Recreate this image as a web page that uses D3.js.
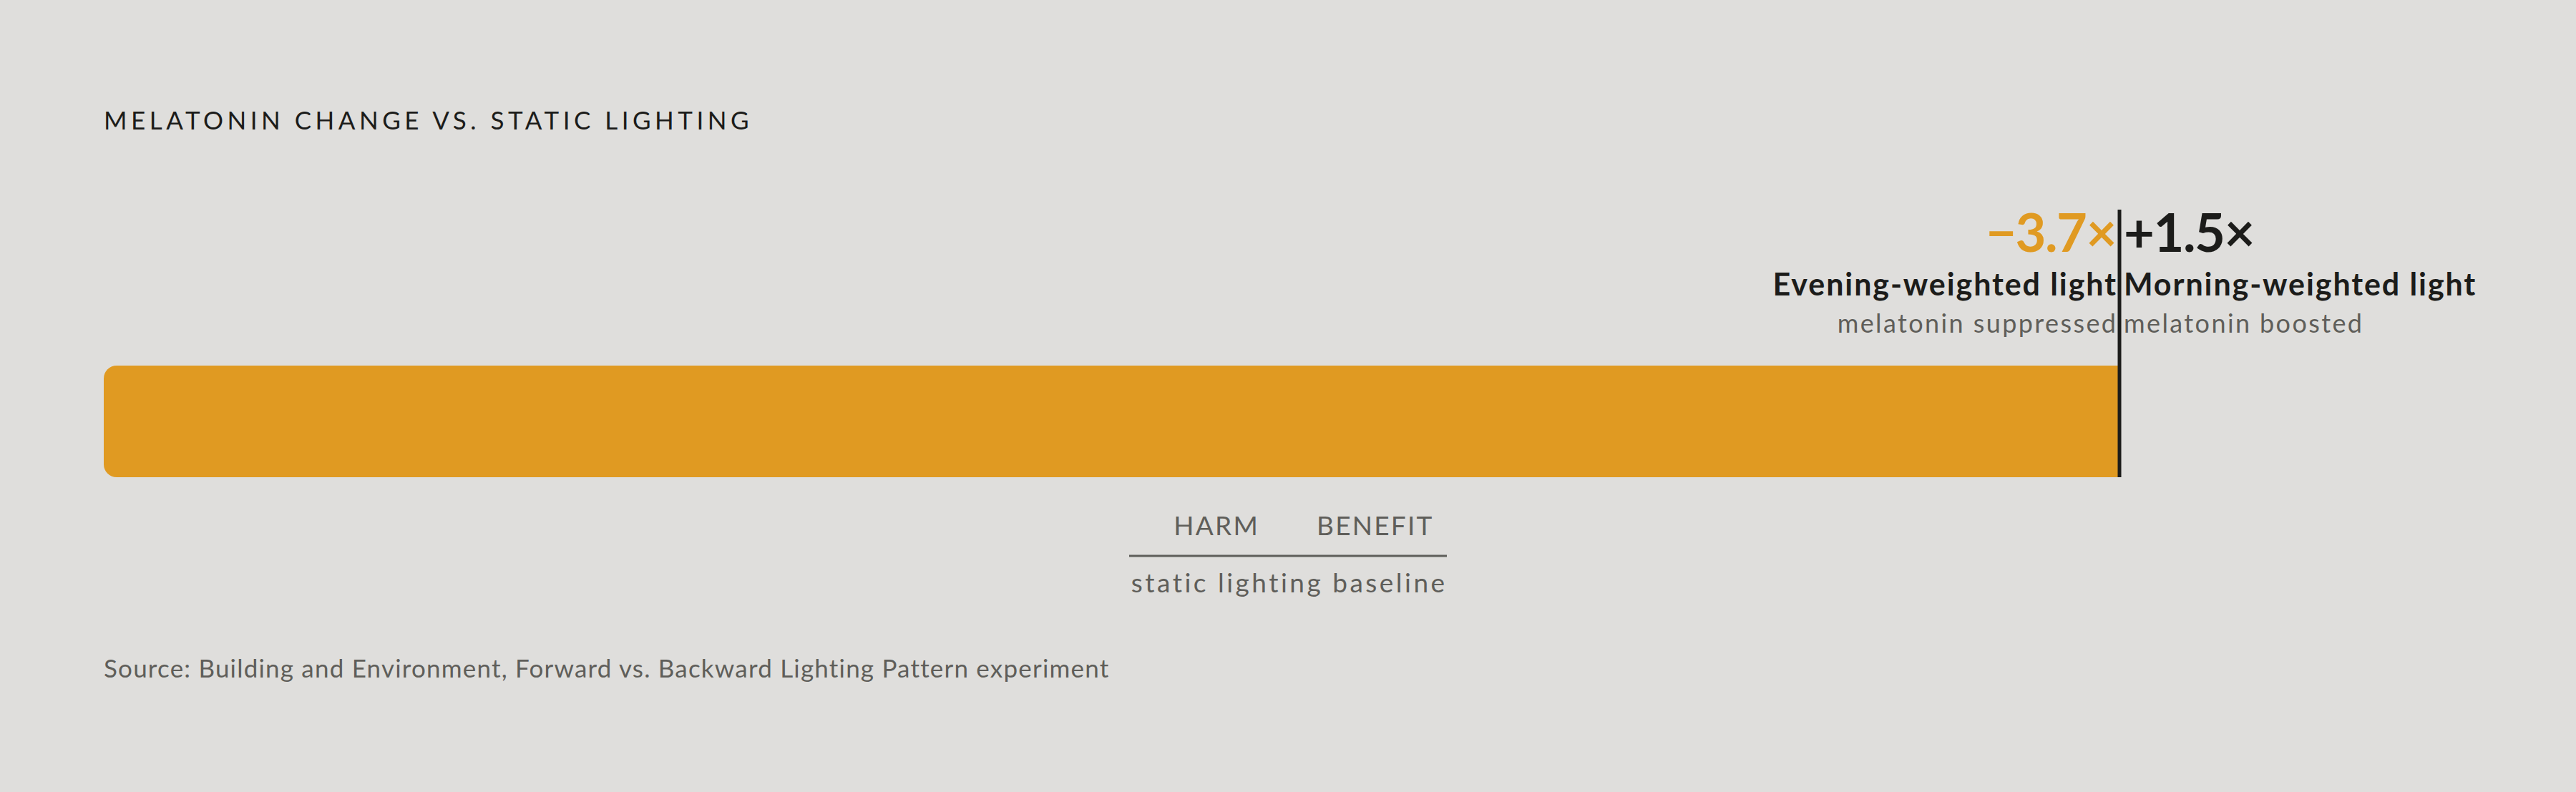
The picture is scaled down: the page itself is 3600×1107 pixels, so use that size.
<!DOCTYPE html>
<html>
<head>
<meta charset="utf-8">
<script src="https://cdn.jsdelivr.net/npm/d3@7"></script>
<style>
  html, body { margin: 0; padding: 0; background: #dfdedc; }
  svg { display: block; font-family: Lato, "Noto Sans", sans-serif; }
</style>
</head>
<body>
<div id="chart"></div>
<script>
// data
const conditions = ["Evening-weighted light", "Morning-weighted light"];
const changes = [-3.7, 1.5];
const valueLabels = ["\u22123.7\u00d7", "+1.5\u00d7"];
const effects = ["melatonin suppressed", "melatonin boosted"];
const sideLabels = ["HARM", "BENEFIT"];

const W = 3600, H = 1107;
const margin = {left: 145, right: 140};
const zeroX = 2962;
const barTop = 511, barH = 156;

const data = conditions.map((c, i) => ({
    name: c, value: changes[i], label: valueLabels[i], effect: effects[i]
}));

const svg = d3.select("#chart").append("svg")
    .attr("width", W)
    .attr("height", H);

svg.append("rect").attr("width", W).attr("height", H).attr("fill", "#dfdedc");

// scale: harm side runs from left margin to the zero line
const x = d3.scaleLinear()
    .domain([d3.min(changes), 0])
    .range([margin.left, zeroX])
    .clamp(true);

// title
svg.append("text")
    .attr("x", margin.left)
    .attr("y", 181)
    .attr("fill", "#1c1c1a")
    .style("font-size", "35px")
    .style("letter-spacing", "5.5px")
    .text("MELATONIN CHANGE VS. STATIC LIGHTING");

// bars (left end rounded, zero end square)
function barPath(x0, x1, y, h, r) {
    let p = d3.path();
    if (x1 - x0 < 1) return "";
    r = Math.min(r, (x1 - x0) / 2);
    p.moveTo(x1, y);
    p.lineTo(x0 + r, y);
    p.arcTo(x0, y, x0, y + r, r);
    p.lineTo(x0, y + h - r);
    p.arcTo(x0, y + h, x0 + r, y + h, r);
    p.lineTo(x1, y + h);
    p.closePath();
    return p.toString();
}

svg.selectAll(".bar")
    .data(data.filter(d => d.value < 0))
    .enter().append("path")
    .attr("class", "bar")
    .attr("fill", "#e09a22")
    .attr("d", d => barPath(x(d.value), x(0), barTop, barH, 18));

// zero line
svg.append("line")
    .attr("x1", x(0)).attr("x2", x(0))
    .attr("y1", 293).attr("y2", barTop + barH)
    .attr("stroke", "#1c1c1a")
    .attr("stroke-width", 5);

// labels either side of zero
const lab = svg.selectAll(".lab")
    .data(data)
    .enter().append("g")
    .attr("class", "lab")
    .attr("transform", d => d.value < 0
        ? "translate(" + (x(0) - 5) + ",0)"
        : "translate(" + (x(0) + 6) + ",0)");

lab.append("text")
    .attr("y", 352)
    .attr("text-anchor", d => d.value < 0 ? "end" : "start")
    .attr("fill", d => d.value < 0 ? "#e09a22" : "#1c1c1a")
    .style("font-size", "74px")
    .style("font-weight", 700)
    .style("letter-spacing", "-0.02em")
    .text(d => d.label);

lab.append("text")
    .attr("x", d => d.value < 0 ? 2 : 0)
    .attr("y", 413)
    .attr("text-anchor", d => d.value < 0 ? "end" : "start")
    .attr("fill", "#1c1c1a")
    .style("font-size", "43px")
    .style("font-weight", 700)
    .style("letter-spacing", "1.9px")
    .text(d => d.name);

lab.append("text")
    .attr("x", d => d.value < 0 ? 2.4 : 0)
    .attr("y", 465)
    .attr("text-anchor", d => d.value < 0 ? "end" : "start")
    .attr("fill", "#5f5e5a")
    .style("font-size", "36px")
    .style("letter-spacing", "2.4px")
    .text(d => d.effect);

// harm / benefit key under the bar
const cx = W / 2;
svg.selectAll(".side")
    .data(sideLabels)
    .enter().append("text")
    .attr("class", "side")
    .attr("x", (d, i) => i === 0 ? cx - 40 : cx + 40)
    .attr("y", 748)
    .attr("text-anchor", (d, i) => i === 0 ? "end" : "start")
    .attr("fill", "#5f5e5a")
    .style("font-size", "37px")
    .style("letter-spacing", "0.06em")
    .text(d => d);

svg.append("line")
    .attr("x1", cx - 222).attr("x2", cx + 222)
    .attr("y1", 777).attr("y2", 777)
    .attr("stroke", "#5f5e5a")
    .attr("stroke-width", 3);

svg.append("text")
    .attr("x", cx + 1.7)
    .attr("y", 828)
    .attr("text-anchor", "middle")
    .attr("fill", "#5f5e5a")
    .style("font-size", "37px")
    .style("letter-spacing", "3.5px")
    .text("static lighting baseline");

// source
svg.append("text")
    .attr("x", margin.left)
    .attr("y", 947)
    .attr("fill", "#5f5e5a")
    .style("font-size", "35px")
    .style("letter-spacing", "1.2px")
    .text("Source: Building and Environment, Forward vs. Backward Lighting Pattern experiment");
</script>
</body>
</html>
